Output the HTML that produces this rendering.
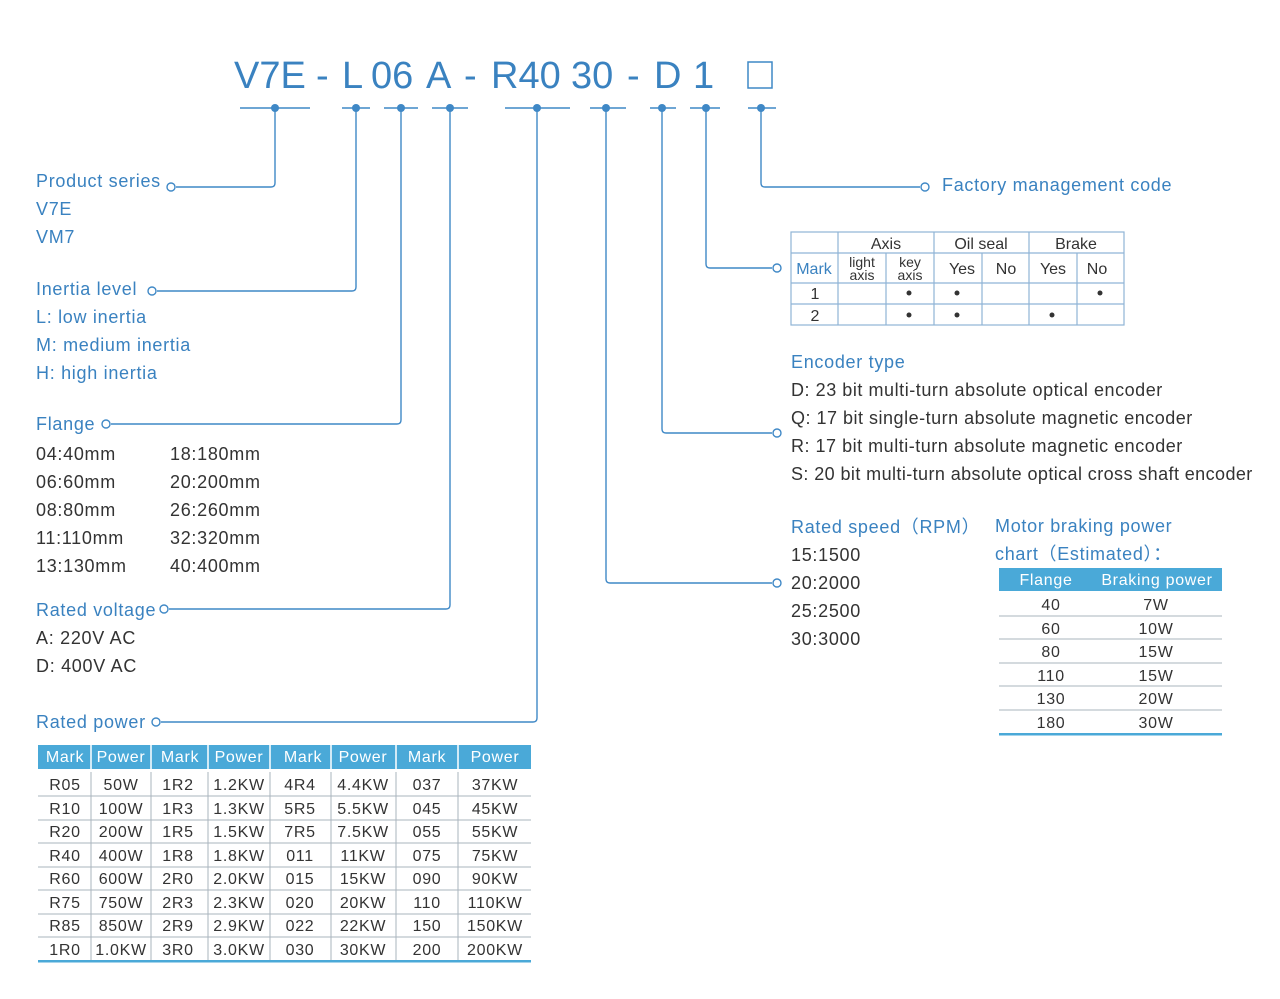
<!DOCTYPE html>
<html><head><meta charset="utf-8"><style>
html,body{margin:0;padding:0;background:#fff;}
svg{display:block;}
text{font-family:"Liberation Sans",sans-serif;}
.b{fill:#3a82c0;}
.d{fill:#333;}
.ln{stroke:#3f88c6;stroke-width:1.4;fill:none;}
.g{stroke:#aab4bd;stroke-width:1;}
.ls{letter-spacing:0.7px;}
</style></head><body>
<svg width="1280" height="999" viewBox="0 0 1280 999" xmlns="http://www.w3.org/2000/svg">
<g class="b" font-size="38">
<text x="234" y="88">V7E</text><text x="316" y="88">-</text><text x="342" y="88">L</text>
<text x="371" y="88">06</text><text x="426" y="88">A</text><text x="464" y="88">-</text>
<text x="491" y="88">R40</text><text x="571" y="88">30</text><text x="627" y="88">-</text>
<text x="654" y="88">D</text><text x="693" y="88">1</text>
</g>
<rect x="748" y="62" width="24" height="26" fill="none" stroke="#3f88c6" stroke-width="1.5"/>
<g class="ln">
<path d="M240 108H310M342 108H370M384 108H418M432 108H468M505 108H570M590 108H626M650 108H676M690 108H720M748 108H776"/>
<path d="M275 108V183q0 4-4 4H176"/>
<path d="M356 108V287q0 4-4 4H157"/>
<path d="M401 108V420q0 4-4 4H111"/>
<path d="M450 108V605q0 4-4 4H169"/>
<path d="M537 108V718q0 4-4 4H161"/>
<path d="M606 108V579q0 4 4 4H772"/>
<path d="M662 108V429q0 4 4 4H772"/>
<path d="M706 108V264q0 4 4 4H772"/>
<path d="M761 108V183q0 4 4 4H920"/>
<circle cx="171" cy="187" r="4"/><circle cx="152" cy="291" r="4"/><circle cx="106" cy="424" r="4"/>
<circle cx="164" cy="609" r="4"/><circle cx="156" cy="722" r="4"/><circle cx="777" cy="583" r="4"/>
<circle cx="777" cy="433" r="4"/><circle cx="777" cy="268" r="4"/><circle cx="925" cy="187" r="4"/>
</g>
<g fill="#3f88c6">
<circle cx="275" cy="108" r="4"/><circle cx="356" cy="108" r="4"/><circle cx="401" cy="108" r="4"/>
<circle cx="450" cy="108" r="4"/><circle cx="537" cy="108" r="4"/><circle cx="606" cy="108" r="4"/>
<circle cx="662" cy="108" r="4"/><circle cx="706" cy="108" r="4"/><circle cx="761" cy="108" r="4"/>
</g>
<g font-size="18" class="ls">
<text class="b" x="36" y="187">Product series</text>
<text class="b" x="36" y="215">V7E</text>
<text class="b" x="36" y="243">VM7</text>
<text class="b" x="36" y="295">Inertia level</text>
<text class="b" x="36" y="323">L: low inertia</text>
<text class="b" x="36" y="351">M: medium inertia</text>
<text class="b" x="36" y="379">H: high inertia</text>
<text class="b" x="36" y="430">Flange</text>
<text class="d" x="36" y="460">04:40mm</text><text class="d" x="170" y="460">18:180mm</text>
<text class="d" x="36" y="488">06:60mm</text><text class="d" x="170" y="488">20:200mm</text>
<text class="d" x="36" y="516">08:80mm</text><text class="d" x="170" y="516">26:260mm</text>
<text class="d" x="36" y="544">11:110mm</text><text class="d" x="170" y="544">32:320mm</text>
<text class="d" x="36" y="572">13:130mm</text><text class="d" x="170" y="572">40:400mm</text>
<text class="b" x="36" y="616">Rated voltage</text>
<text class="d" x="36" y="644">A:  220V AC</text>
<text class="d" x="36" y="672">D:  400V AC</text>
<text class="b" x="36" y="728">Rated power</text>
<text class="b" x="942" y="191">Factory management code</text>
<text class="b" x="791" y="368">Encoder type</text>
<text class="d" x="791" y="396" textLength="372">D: 23 bit multi-turn absolute optical encoder</text>
<text class="d" x="791" y="424" textLength="402">Q: 17 bit single-turn absolute magnetic encoder</text>
<text class="d" x="791" y="452" textLength="392">R: 17 bit multi-turn absolute magnetic encoder</text>
<text class="d" x="791" y="480" textLength="462">S: 20 bit multi-turn absolute optical cross shaft encoder</text>
<text class="b" x="791" y="533">Rated speed（RPM）</text>
<text class="d" x="791" y="561">15:1500</text>
<text class="d" x="791" y="589">20:2000</text>
<text class="d" x="791" y="617">25:2500</text>
<text class="d" x="791" y="645">30:3000</text>
<text class="b" x="995" y="532">Motor braking power</text>
<text class="b" x="995" y="560">chart（Estimated）：</text>
</g>
<g fill="none" stroke="#8fb4d6" stroke-width="1.2">
<rect x="791" y="232" width="333" height="93"/>
<path d="M791 253H1124M791 283H1124M791 304H1124M838 232V325M886 253V325M934 232V325M982 253V325M1029 232V325M1077 253V325"/>
</g>
<g font-size="16" class="d" text-anchor="middle">
<text x="886" y="249">Axis</text><text x="981" y="249">Oil seal</text><text x="1076" y="249">Brake</text>
<text class="b" x="814" y="274">Mark</text>
<text x="862" y="267" font-size="14">light</text><text x="862" y="280" font-size="14">axis</text>
<text x="910" y="267" font-size="14">key</text><text x="910" y="280" font-size="14">axis</text>
<text x="962" y="274">Yes</text><text x="1006" y="274">No</text><text x="1053" y="274">Yes</text><text x="1097" y="274">No</text>
<text x="815" y="299">1</text><text x="815" y="321">2</text>
</g>
<g fill="#333"><circle cx="909" cy="293" r="2.5"/><circle cx="957" cy="293" r="2.5"/><circle cx="1100" cy="293" r="2.5"/>
<circle cx="909" cy="315" r="2.5"/><circle cx="957" cy="315" r="2.5"/><circle cx="1052" cy="315" r="2.5"/></g>
<rect x="38" y="745" width="493" height="24" fill="#4aa9d8"/>
<g stroke="#fff" stroke-width="1.5"><path d="M91 745V769M151 745V769M208 745V769M270 745V769M331 745V769M396 745V769M458 745V769"/></g>
<g class="g"><path d="M38 796H531M38 820H531M38 843H531M38 867H531M38 890H531M38 914H531M38 937H531M91 772V960M151 772V960M208 772V960M270 772V960M331 772V960M396 772V960M458 772V960"/></g>
<rect x="38" y="960" width="493" height="2.5" fill="#4aa9d8"/>
<g font-size="16" text-anchor="middle" fill="#fff" class="ls">
<text x="65" y="762">Mark</text><text x="121" y="762">Power</text><text x="180" y="762">Mark</text><text x="239" y="762">Power</text>
<text x="303" y="762">Mark</text><text x="363" y="762">Power</text><text x="427" y="762">Mark</text><text x="495" y="762">Power</text>
</g>
<g font-size="16" text-anchor="middle" class="d ls">
<text x="65" y="790">R05</text><text x="121" y="790">50W</text><text x="178" y="790">1R2</text><text x="239" y="790">1.2KW</text><text x="300" y="790">4R4</text><text x="363" y="790">4.4KW</text><text x="427" y="790">037</text><text x="495" y="790">37KW</text>
<text x="65" y="814">R10</text><text x="121" y="814">100W</text><text x="178" y="814">1R3</text><text x="239" y="814">1.3KW</text><text x="300" y="814">5R5</text><text x="363" y="814">5.5KW</text><text x="427" y="814">045</text><text x="495" y="814">45KW</text>
<text x="65" y="837">R20</text><text x="121" y="837">200W</text><text x="178" y="837">1R5</text><text x="239" y="837">1.5KW</text><text x="300" y="837">7R5</text><text x="363" y="837">7.5KW</text><text x="427" y="837">055</text><text x="495" y="837">55KW</text>
<text x="65" y="861">R40</text><text x="121" y="861">400W</text><text x="178" y="861">1R8</text><text x="239" y="861">1.8KW</text><text x="300" y="861">011</text><text x="363" y="861">11KW</text><text x="427" y="861">075</text><text x="495" y="861">75KW</text>
<text x="65" y="884">R60</text><text x="121" y="884">600W</text><text x="178" y="884">2R0</text><text x="239" y="884">2.0KW</text><text x="300" y="884">015</text><text x="363" y="884">15KW</text><text x="427" y="884">090</text><text x="495" y="884">90KW</text>
<text x="65" y="908">R75</text><text x="121" y="908">750W</text><text x="178" y="908">2R3</text><text x="239" y="908">2.3KW</text><text x="300" y="908">020</text><text x="363" y="908">20KW</text><text x="427" y="908">110</text><text x="495" y="908">110KW</text>
<text x="65" y="931">R85</text><text x="121" y="931">850W</text><text x="178" y="931">2R9</text><text x="239" y="931">2.9KW</text><text x="300" y="931">022</text><text x="363" y="931">22KW</text><text x="427" y="931">150</text><text x="495" y="931">150KW</text>
<text x="65" y="955">1R0</text><text x="121" y="955">1.0KW</text><text x="178" y="955">3R0</text><text x="239" y="955">3.0KW</text><text x="300" y="955">030</text><text x="363" y="955">30KW</text><text x="427" y="955">200</text><text x="495" y="955">200KW</text>
</g>
<rect x="999" y="568" width="223" height="23" fill="#4aa9d8"/>
<g class="g"><path d="M999 616H1222M999 639H1222M999 663H1222M999 686H1222M999 710H1222"/></g>
<rect x="999" y="733" width="223" height="2.5" fill="#4aa9d8"/>
<g font-size="16" text-anchor="middle" class="ls">
<text x="1046" y="585" fill="#fff">Flange</text><text x="1157" y="585" fill="#fff">Braking power</text>
<g class="d">
<text x="1051" y="610">40</text><text x="1156" y="610">7W</text>
<text x="1051" y="634">60</text><text x="1156" y="634">10W</text>
<text x="1051" y="657">80</text><text x="1156" y="657">15W</text>
<text x="1051" y="681">110</text><text x="1156" y="681">15W</text>
<text x="1051" y="704">130</text><text x="1156" y="704">20W</text>
<text x="1051" y="728">180</text><text x="1156" y="728">30W</text>
</g></g>
</svg>
</body></html>
